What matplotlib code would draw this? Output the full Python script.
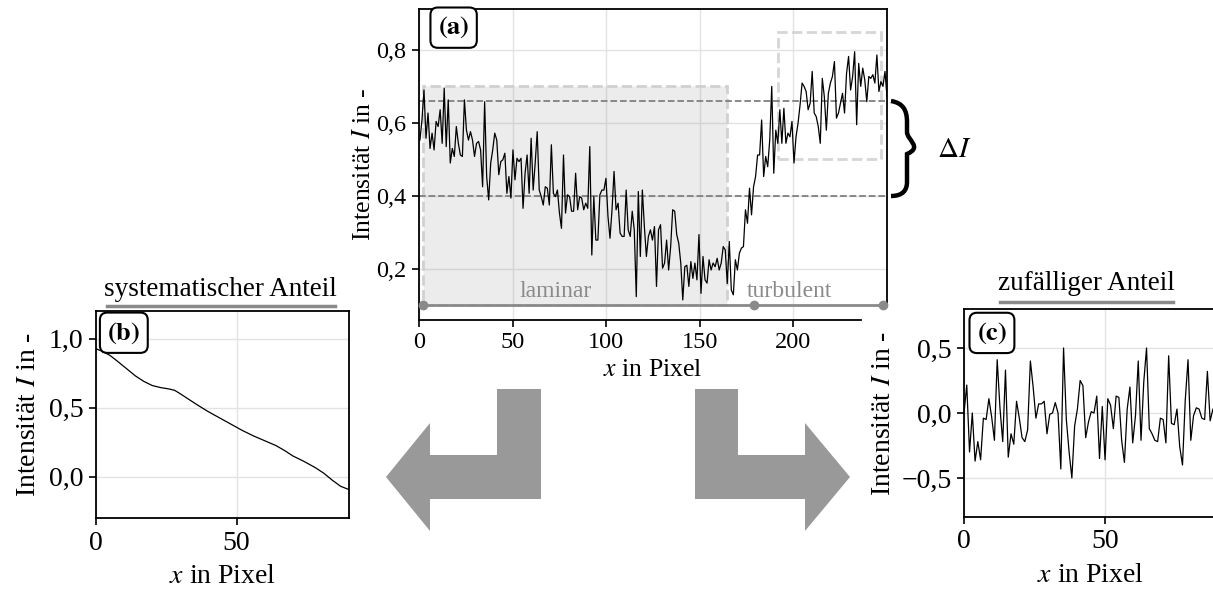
import numpy as np
import matplotlib
matplotlib.use("Agg")
import matplotlib.pyplot as plt
from matplotlib.patches import Polygon, Rectangle, PathPatch
from matplotlib.path import Path
from matplotlib.ticker import FuncFormatter
import matplotlib.transforms as mtransforms

plt.rcParams['font.family'] = ['Liberation Serif', 'DejaVu Serif']
plt.rcParams['mathtext.fontset'] = 'stix'
plt.rcParams['font.size'] = 20

# panel (a): raw intensity profile
intensity_a = [
    0.553, 0.608, 0.69, 0.558, 0.627, 0.53, 0.572, 0.526, 0.604, 0.59, 0.636, 0.544, 0.695, 0.535,
    0.663, 0.49, 0.53, 0.508, 0.59, 0.544, 0.512, 0.508, 0.663, 0.58, 0.553, 0.576, 0.553, 0.508,
    0.544, 0.549, 0.526, 0.425, 0.658, 0.453, 0.389, 0.49, 0.526, 0.572, 0.553, 0.458, 0.494, 0.499,
    0.517, 0.407, 0.453, 0.394, 0.526, 0.444, 0.503, 0.494, 0.503, 0.366, 0.462, 0.512, 0.407, 0.558,
    0.416, 0.49, 0.576, 0.416, 0.398, 0.375, 0.425, 0.421, 0.375, 0.54, 0.407, 0.398, 0.416, 0.353,
    0.311, 0.512,
    0.353, 0.403, 0.398, 0.358, 0.358, 0.462, 0.362, 0.398, 0.394, 0.362, 0.38, 0.366, 0.535, 0.238,
    0.398, 0.279, 0.279, 0.403, 0.416, 0.416, 0.448, 0.344, 0.284, 0.362, 0.467, 0.362, 0.38, 0.298,
    0.289, 0.289, 0.416, 0.307, 0.289, 0.358, 0.307, 0.124, 0.412, 0.234, 0.416, 0.316, 0.234, 0.289,
    0.307, 0.279, 0.316, 0.152, 0.307, 0.321, 0.202, 0.216, 0.279, 0.197, 0.261, 0.362, 0.358, 0.294,
    0.27, 0.216, 0.115, 0.206, 0.21, 0.152, 0.22, 0.174, 0.216, 0.17, 0.294, 0.133, 0.234, 0.17,
    0.161, 0.225, 0.197, 0.216, 0.206, 0.229, 0.197, 0.216, 0.261,
    0.252, 0.16, 0.275, 0.142, 0.129, 0.225, 0.197, 0.243, 0.257, 0.261, 0.362, 0.325, 0.421, 0.348,
    0.425, 0.453, 0.512, 0.512, 0.608, 0.453, 0.508, 0.48, 0.553, 0.70, 0.462, 0.58, 0.544, 0.636,
    0.544, 0.64, 0.544, 0.572, 0.562, 0.604, 0.49, 0.562, 0.599, 0.649, 0.709, 0.70, 0.686, 0.636,
    0.654, 0.741, 0.627, 0.617, 0.59, 0.544, 0.722, 0.672, 0.58, 0.681, 0.709, 0.727, 0.768, 0.613,
    0.627, 0.654, 0.681, 0.627, 0.736, 0.782, 0.69, 0.727, 0.795, 0.595, 0.763, 0.70, 0.75, 0.718,
    0.658, 0.727, 0.722, 0.732, 0.709, 0.786, 0.686, 0.713, 0.70, 0.741, 0.672,
]
x_a_range = [0.5, 250.0]

# thresholds, regions, timeline
levels = [0.66, 0.40]
laminar_box = [2.3, 164.5, 0.10, 0.70]     # x0, x1, y0, y1
turbulent_box = [192, 247, 0.50, 0.85]
timeline_x = [2, 179, 248]
timeline_y = 0.10
region_labels = ['laminar', 'turbulent']
region_label_x = [73, 198]

# panel (b): systematic part
x_b = [0, 2, 5, 8, 11, 14, 17, 20, 23, 26, 28, 30, 33, 36, 40, 44, 48, 52, 56, 60, 64, 67, 70,
       74, 78, 81, 84, 87, 90]
intensity_b = [0.926, 0.91, 0.878, 0.83, 0.78, 0.73, 0.69, 0.66, 0.645, 0.635, 0.625, 0.60, 0.56,
               0.52, 0.47, 0.425, 0.38, 0.335, 0.295, 0.26, 0.225, 0.19, 0.15, 0.11, 0.065,
               0.025, -0.025, -0.07, -0.094]

# panel (c): random part
intensity_c = [
    0.0, 0.215, -0.30, 0.0, -0.37, -0.22, -0.36, -0.04, -0.05, 0.11, -0.03, -0.21, 0.41, 0.04,
    -0.22, 0.33, -0.34, -0.16, -0.24, 0.09, -0.04, -0.19, -0.22, -0.13, 0.40, 0.20, -0.04, 0.07,
    0.07, 0.09, -0.16, -0.01, 0.0, 0.08, 0.0, -0.43, 0.50, -0.05, -0.30, -0.50, -0.10, 0.03, 0.25,
    0.21, -0.19, -0.07, 0.01, 0.0, 0.13, -0.35, 0.05, -0.36, 0.11, 0.06, -0.12, 0.13, 0.12, -0.21,
    -0.38, 0.03, 0.20, -0.23, -0.02, 0.40, -0.21, 0.24, 0.50, -0.12, -0.16, -0.21, -0.22, -0.04,
    -0.05, -0.23, 0.44, -0.08, -0.09, 0.03, -0.26, -0.40, 0.10, 0.41, -0.21, -0.02, 0.04, 0.03,
    -0.04, -0.05, 0.32, -0.06, 0.03,
]
x_c_range = [0.0, 88.2]

W, H = 1213, 592
fig = plt.figure(figsize=(W / 100, H / 100), dpi=100)
px = mtransforms.Affine2D().scale(1 / W, -1 / H).translate(0, 1) + fig.transFigure

comma = FuncFormatter(lambda v, p: f"{v:.1f}".replace('.', ',').replace('-', '\u2212'))
grid_kw = dict(color='#e3e3e3', lw=1.0)
ylab = 'Intensität $I$ in -'
xlab = '$x$ in Pixel'
box_kw = dict(boxstyle='round,pad=0.28', fc='white', ec='black', lw=1.5)
FS = 20


def style(ax, fs):
    ax.grid(True, **grid_kw)
    ax.set_axisbelow(True)
    for s in ax.spines.values():
        s.set_linewidth(1.3)
    ax.tick_params(direction='out', length=5, width=1.2, labelsize=fs, pad=4)
    ax.yaxis.set_major_formatter(comma)


# ---- panel (a)
ax = fig.add_axes([419 / W, 1 - 320 / H, (887 - 419) / W, (320 - 9) / H])
style(ax, 17.5)
x_a = np.linspace(x_a_range[0], x_a_range[1], len(intensity_a))
ax.set_xlim(0, 250)
ax.set_ylim(0.06, 0.912)
ax.set_xticks([0, 50, 100, 150, 200])
ax.set_yticks([0.2, 0.4, 0.6, 0.8])
ax.spines['bottom'].set_bounds(0, 236)
ax.spines['right'].set_bounds(0.10, 0.912)

ax.add_patch(Rectangle((laminar_box[0], laminar_box[2]), laminar_box[1] - laminar_box[0],
                       laminar_box[3] - laminar_box[2], fc=(0.5, 0.5, 0.5, 0.15),
                       ec='#d0d0d0', ls='--', lw=2, zorder=1))
ax.add_patch(Rectangle((turbulent_box[0], turbulent_box[2]), turbulent_box[1] - turbulent_box[0],
                       turbulent_box[3] - turbulent_box[2], fc='none',
                       ec='#d6d6d6', ls='--', lw=2, zorder=1))
for lv in levels:
    ax.axhline(lv, color='#808080', ls='--', lw=1.3, zorder=2)
ax.plot(x_a, intensity_a, color='black', lw=0.9, zorder=3)
ax.plot([timeline_x[0], timeline_x[-1]], [timeline_y, timeline_y], color='#8a8a8a', lw=2, zorder=4,
        clip_on=False)
ax.plot(timeline_x, [timeline_y] * len(timeline_x), 'o', color='#8a8a8a', ms=6, zorder=4,
        clip_on=False)
for lab, lx in zip(region_labels, region_label_x):
    ax.text(lx, 0.108, lab, color='#8a8a8a', ha='center', va='bottom', fontsize=17)
ax.text(0.074, 0.94, r'$\mathbf{(a)}$', transform=ax.transAxes, ha='center', va='center',
        fontsize=19, bbox=box_kw)
ax.set_ylabel(ylab, fontsize=18.5, labelpad=1)
ax.set_xlabel(xlab, fontsize=18.5, labelpad=4)

# brace and delta I
brace = [(891, 101), (903, 103), (907, 110), (907, 122), (907, 132), (907, 140), (923, 147),
         (907, 154), (907, 162), (907, 172), (907, 182), (907, 190), (903, 196), (891, 196)]
codes = [Path.MOVETO, Path.CURVE4, Path.CURVE4, Path.CURVE4, Path.LINETO, Path.CURVE4,
         Path.CURVE4, Path.CURVE4, Path.CURVE4, Path.CURVE4, Path.LINETO, Path.CURVE4,
         Path.CURVE4, Path.CURVE4]
fig.patches.append(PathPatch(Path(brace, codes), transform=px, fc='none', ec='black', lw=3.2))
fig.text(937 / W, 1 - 150 / H, r'$\Delta I$', ha='left', va='center', fontsize=21)

# ---- panel (b)
axb = fig.add_axes([96 / W, 1 - 518 / H, (349 - 96) / W, (518 - 311) / H])
style(axb, FS)
axb.plot(x_b, intensity_b, color='black', lw=0.9)
axb.set_xlim(0, 90)
axb.set_ylim(-0.3, 1.2)
axb.set_xticks([0, 50])
axb.set_yticks([0.0, 0.5, 1.0])
axb.set_ylabel(ylab, fontsize=FS, labelpad=6)
axb.set_xlabel(xlab, fontsize=FS, labelpad=6)
axb.text(0.11, 0.895, r'$\mathbf{(b)}$', transform=axb.transAxes, ha='center', va='center',
         fontsize=19, bbox=box_kw)
fig.text(220 / W, 1 - 289 / H, 'systematischer Anteil', ha='center', va='center', fontsize=19.5)
fig.lines.append(plt.Line2D([107, 335], [306, 306], transform=px, color='#8a8a8a', lw=2.5))

# ---- panel (c)
axc = fig.add_axes([964 / W, 1 - 517 / H, 254 / W, (517 - 309) / H])
style(axc, FS)
x_c = np.linspace(x_c_range[0], x_c_range[1], len(intensity_c))
axc.plot(x_c, intensity_c, color='black', lw=0.9)
axc.set_xlim(0, 90)
axc.set_ylim(-0.8, 0.8)
axc.set_xticks([0, 50])
axc.set_yticks([-0.5, 0.0, 0.5])
axc.set_ylabel(ylab, fontsize=FS, labelpad=4)
axc.set_xlabel(xlab, fontsize=FS, labelpad=6)
axc.text(0.11, 0.885, r'$\mathbf{(c)}$', transform=axc.transAxes, ha='center', va='center',
         fontsize=19, bbox=box_kw)
fig.text(1086 / W, 1 - 284 / H, 'zufälliger Anteil', ha='center', va='center', fontsize=19.5)
fig.lines.append(plt.Line2D([1000, 1173], [302, 302], transform=px, color='#8a8a8a', lw=2.5))

# ---- arrows
arrow_col = '#999999'
shapes = [
    [(497, 389), (541, 389), (541, 499), (497, 499)],
    [(497, 455), (430, 455), (430, 423), (386, 477), (430, 531), (430, 499), (497, 499)],
    [(695, 389), (738, 389), (738, 499), (695, 499)],
    [(738, 455), (805, 455), (805, 423), (850, 477), (805, 531), (805, 499), (738, 499)],
]
for s in shapes:
    fig.patches.append(Polygon(s, closed=True, transform=px, fc=arrow_col, ec='none'))

fig.savefig('out.png', dpi=100)
